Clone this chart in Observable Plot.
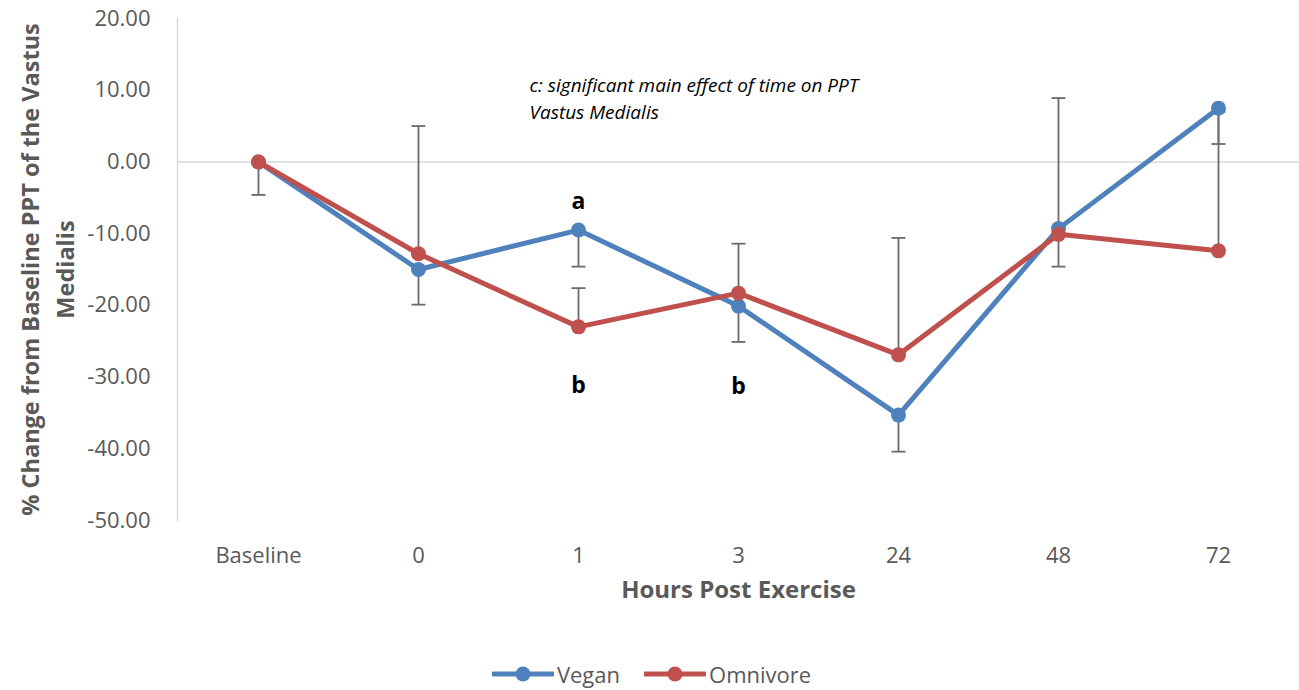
<!DOCTYPE html>
<html>
<head>
<meta charset="utf-8">
<script src="https://cdn.jsdelivr.net/npm/d3@7"></script>
<script src="https://cdn.jsdelivr.net/npm/@observablehq/plot@0.6"></script>
<style>
  body { margin: 0; background: #fff; font-family: "Open Sans", Lato, sans-serif; }
  #legend { display: flex; justify-content: center; align-items: center; gap: 24px; height: 40px; margin-top: 4px; color: #595959; font-size: 22px; padding-left: 4px; }
  #legend .item { display: flex; align-items: center; gap: 3px; }
</style>
</head>
<body>
<div id="chart"></div>
<div id="legend"></div>
<script>
// ---- data ----
const categories = ["Baseline", "0", "1", "3", "24", "48", "72"];
const seriesNames = ["Vegan", "Omnivore"];
const seriesColors = ["#4F81BD", "#C0504D"];
const vegan = [0, -15.0, -9.5, -20.1, -35.3, -9.3, 7.5];
const omnivore = [0, -12.8, -23.0, -18.3, -26.9, -10.1, -12.4];
// error bar end points (vegan: minus side, omnivore: plus side)
const veganErrEnd = [-4.6, -19.9, -14.6, -25.1, -40.4, -14.6, 2.5];
const omnivoreErrEnd = [0, 5.0, -17.6, -11.4, -10.6, 8.9, 7.0];
const yTicks = [-50, -40, -30, -20, -10, 0, 10, 20];
const letters = [
  {time: "1", y: -5.6, label: "a"},
  {time: "1", y: -31.2, label: "b"},
  {time: "3", y: -31.3, label: "b"}
];
const noteLines = ["c: significant main effect of time on PPT", "Vastus Medialis"];
const xTitle = "Hours Post Exercise";
const yTitle = "% Change from Baseline PPT of the Vastus\nMedialis";

const rows = [];
categories.forEach((t, i) => {
  rows.push({time: t, series: "Vegan", value: vegan[i], err: veganErrEnd[i]});
  rows.push({time: t, series: "Omnivore", value: omnivore[i], err: omnivoreErrEnd[i]});
});
const errRows = rows.filter(d => d.err !== d.value);
const vRows = rows.filter(d => d.series === "Vegan");
const oRows = rows.filter(d => d.series === "Omnivore");

const capSymbol = {draw(context) { context.moveTo(-7, 0); context.lineTo(7, 0); }};

const font = "'Open Sans', Lato, sans-serif";
const chart = Plot.plot({
  width: 1299,
  height: 650,
  marginLeft: 177,
  marginRight: 0,
  marginTop: 18,
  marginBottom: 130,
  style: {fontFamily: font, background: "#fff"},
  x: {type: "point", domain: categories, padding: 0.5, label: null},
  y: {domain: [-50, 20], label: null},
  marks: [
    Plot.ruleY([0], {stroke: "#d9d9d9", strokeWidth: 1.5}),
    Plot.frame({anchor: "left", stroke: "#d9d9d9", strokeWidth: 1.5}),
    Plot.axisY({ticks: yTicks, tickSize: 0, tickPadding: 27, tickFormat: d => d.toFixed(2), fontSize: 22, color: "#595959", label: null}),
    Plot.axisX({tickSize: 0, tickPadding: 27, fontSize: 22, color: "#595959", label: null}),
    Plot.text([xTitle], {frameAnchor: "bottom", dy: 77, fontSize: 24, fontWeight: "bold", fill: "#595959"}),
    Plot.text([yTitle], {frameAnchor: "left", dx: -132, rotate: -90, textAnchor: "middle", fontSize: 23.5, fontWeight: "bold", fill: "#595959", lineHeight: 1.47, lineAnchor: "middle"}),
    Plot.text([noteLines[0]], {frameAnchor: "top-left", dx: 352, dy: 67, textAnchor: "start", lineAnchor: "middle", fontStyle: "italic", fontSize: 19, fill: "#000"}),
    Plot.text([noteLines[1]], {frameAnchor: "top-left", dx: 352, dy: 94, textAnchor: "start", lineAnchor: "middle", fontStyle: "italic", fontSize: 19, fill: "#000"}),
    Plot.ruleX(errRows, {x: "time", y1: "value", y2: "err", stroke: "#6b6b6b", strokeWidth: 1.8}),
    Plot.dot(errRows, {x: "time", y: "err", symbol: capSymbol, stroke: "#6b6b6b", fill: "none", strokeWidth: 1.8}),
    Plot.line(vRows, {x: "time", y: "value", stroke: seriesColors[0], strokeWidth: 5}),
    Plot.dot(vRows, {x: "time", y: "value", r: 7.5, fill: seriesColors[0]}),
    Plot.line(oRows, {x: "time", y: "value", stroke: seriesColors[1], strokeWidth: 5}),
    Plot.dot(oRows, {x: "time", y: "value", r: 7.5, fill: seriesColors[1]}),
    Plot.text(letters, {x: "time", y: "y", text: "label", fontSize: 23, fontWeight: "bold", fill: "#000"})
  ]
});
document.getElementById("chart").appendChild(chart);

const legend = document.getElementById("legend");
seriesNames.forEach((name, i) => {
  const item = document.createElement("div");
  item.className = "item";
  item.innerHTML = `<svg width="62" height="20"><line x1="1" y1="10" x2="61" y2="10" stroke="${seriesColors[i]}" stroke-width="5" stroke-linecap="round"/><circle cx="31" cy="10" r="7.5" fill="${seriesColors[i]}"/></svg><span>${name}</span>`;
  legend.appendChild(item);
});
</script>
</body>
</html>
